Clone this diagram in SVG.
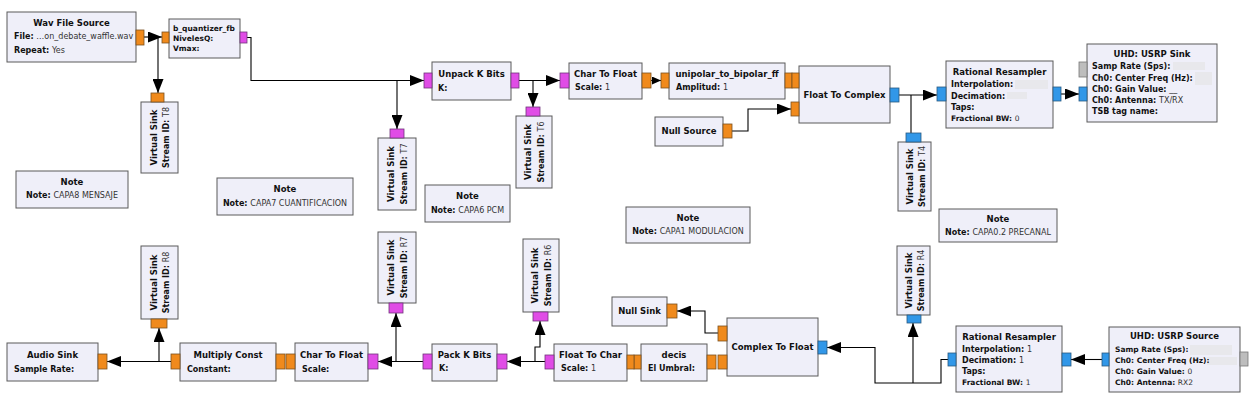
<svg xmlns="http://www.w3.org/2000/svg" width="1253" height="402" viewBox="0 0 1253 402">
<style>
.blk{fill:#EFEFF9;stroke:#5a5a5a;stroke-width:1}
.pf{fill:#F08A1C;stroke:#7a5020;stroke-width:0.8}
.pm{fill:#E04CE6;stroke:#70357a;stroke-width:0.8}
.pc{fill:#3197E8;stroke:#2a5a80;stroke-width:0.8}
.pg{fill:#BDBDBD;stroke:#777;stroke-width:0.8}
.t{font-family:"DejaVu Sans","Liberation Sans",sans-serif;font-size:8.5px;font-weight:bold;fill:#111}
.tc{text-anchor:middle}
.p{font-size:8px}
.s{font-size:7.5px}
.v{font-weight:normal;fill:#333}
.cn{fill:none;stroke:#000;stroke-width:1.1}
.blur{fill:#E8E8EC}
</style>
<defs>
<marker id="ar" markerWidth="14" markerHeight="11" refX="14" refY="5.5" orient="auto" markerUnits="userSpaceOnUse"><path d="M0,0L14,5.5L0,11z" fill="#000"/></marker>
<marker id="as" markerWidth="9" markerHeight="8" refX="9" refY="4" orient="auto" markerUnits="userSpaceOnUse"><path d="M0,0L9,4L0,8z" fill="#000"/></marker>
</defs>
<rect width="1253" height="402" fill="#fff"/>

<g id="connectors">
<path class="cn" d="M144,37H162" marker-end="url(#ar)"/>
<path class="cn" d="M158,37V93" marker-end="url(#ar)"/>
<path class="cn" d="M247,37.5H251V80.5H424" marker-end="url(#ar)"/>
<path class="cn" d="M397,80.5V129" marker-end="url(#ar)"/>
<path class="cn" d="M519,80.5H560" marker-end="url(#ar)"/>
<path class="cn" d="M533,80.5V107" marker-end="url(#ar)"/>
<path class="cn" d="M651,80.5H661" marker-end="url(#as)"/>
<path class="cn" d="M732,131H748V109H791" marker-end="url(#ar)"/>
<path class="cn" d="M899,95H937" marker-end="url(#ar)"/>
<path class="cn" d="M911,95V133"/>
<path class="cn" d="M1061,94H1079" marker-end="url(#ar)"/>
<path class="cn" d="M1102,359.5H1071" marker-end="url(#ar)"/>
<path class="cn" d="M948,359.5H941V383H875V347.5H827" marker-end="url(#ar)"/>
<path class="cn" d="M913,383V323" marker-end="url(#ar)"/>
<path class="cn" d="M718,333H705V311H677" marker-end="url(#ar)"/>
<path class="cn" d="M545,361.5H507" marker-end="url(#ar)"/>
<path class="cn" d="M535,361.5V347H540V321" marker-end="url(#ar)"/>
<path class="cn" d="M423,361.5H378" marker-end="url(#ar)"/>
<path class="cn" d="M396,361.5V313" marker-end="url(#ar)"/>
<path class="cn" d="M171,361.5H107" marker-end="url(#ar)"/>
<path class="cn" d="M159,361.5V328" marker-end="url(#ar)"/>
</g>

<g id="wav_src">
<rect class="blk" x="7" y="12" width="129" height="50"/>
<rect class="pf" x="136" y="30" width="8" height="15"/>
<text class="t tc" x="71.5" y="26">Wav File Source</text>
<text class="t p" x="14" y="39">File: <tspan class="v">…on_debate_waffle.wav</tspan></text>
<text class="t p" x="14" y="53">Repeat: <tspan class="v">Yes</tspan></text>
</g>

<g id="quantizer">
<rect class="blk" x="169" y="19" width="71" height="39"/>
<rect class="pf" x="162" y="32" width="7" height="11"/>
<rect class="pm" x="240" y="32" width="7" height="11"/>
<text class="t s" x="173" y="31">b_quantizer_fb</text>
<text class="t s" x="173" y="41">NivelesQ:</text>
<text class="t s" x="173" y="51">Vmax:</text>
</g>

<g id="vsink_T8">
<rect class="blk" x="141" y="102" width="37" height="71"/>
<rect class="pf" x="151" y="93" width="13" height="9"/>
<g transform="translate(157,137.5) rotate(-90)"><text class="t tc">Virtual Sink</text><text class="t tc p" y="12">Stream ID: <tspan class="v">T8</tspan></text></g>
</g>

<g id="unpack">
<rect class="blk" x="432" y="62" width="79" height="38"/>
<rect class="pm" x="424" y="73" width="8" height="15"/>
<rect class="pm" x="511" y="73" width="8" height="15"/>
<text class="t tc" x="471.5" y="77">Unpack K Bits</text>
<text class="t p" x="438" y="91">K:</text>
</g>

<g id="vsink_T7">
<rect class="blk" x="378" y="138" width="38" height="72"/>
<rect class="pm" x="390" y="129" width="14" height="9"/>
<g transform="translate(394,174) rotate(-90)"><text class="t tc">Virtual Sink</text><text class="t tc p" y="13">Stream ID: <tspan class="v">T7</tspan></text></g>
</g>

<g id="vsink_T6">
<rect class="blk" x="516" y="116" width="36" height="72"/>
<rect class="pm" x="526" y="107" width="14" height="9"/>
<g transform="translate(531,152) rotate(-90)"><text class="t tc">Virtual Sink</text><text class="t tc p" y="13">Stream ID: <tspan class="v">T6</tspan></text></g>
</g>

<g id="char2float_top">
<rect class="blk" x="569" y="63" width="73" height="36"/>
<rect class="pm" x="560" y="73" width="9" height="15"/>
<rect class="pf" x="642" y="73" width="9" height="15"/>
<text class="t tc" x="605.5" y="77">Char To Float</text>
<text class="t p" x="575" y="90">Scale: <tspan class="v">1</tspan></text>
</g>

<g id="unipolar">
<rect class="blk" x="669" y="63" width="116" height="36"/>
<rect class="pf" x="661" y="73" width="8" height="15"/>
<rect class="pf" x="785" y="73" width="7" height="15"/>
<text class="t tc" x="727" y="77">unipolar_to_bipolar_ff</text>
<text class="t p" x="676" y="90">Amplitud: <tspan class="v">1</tspan></text>
</g>

<g id="float2complex">
<rect class="blk" x="799" y="66" width="91" height="57"/>
<rect class="pf" x="792" y="73" width="7" height="15"/>
<rect class="pf" x="791" y="102" width="8" height="14"/>
<rect class="pc" x="890" y="88" width="9" height="14"/>
<text class="t tc" x="844.5" y="98">Float To Complex</text>
</g>

<g id="null_src">
<rect class="blk" x="655" y="117" width="68" height="29"/>
<rect class="pf" x="723" y="124" width="9" height="14"/>
<text class="t tc" x="689" y="134">Null Source</text>
</g>

<g id="vsink_T4">
<rect class="blk" x="898" y="142" width="33" height="69"/>
<rect class="pc" x="906" y="133" width="15" height="9"/>
<g transform="translate(913,176.5) rotate(-90)"><text class="t tc">Virtual Sink</text><text class="t tc p" y="12">Stream ID: <tspan class="v">T4</tspan></text></g>
</g>

<g id="rresamp_top">
<rect class="blk" x="946" y="61" width="107" height="67"/>
<rect class="pc" x="937" y="87" width="9" height="14"/>
<rect class="pc" x="1053" y="87" width="8" height="14"/>
<rect class="blur" x="1015" y="80" width="33" height="9"/>
<rect class="blur" x="1007" y="92" width="20" height="7"/>
<text class="t tc" x="999.5" y="75">Rational Resampler</text>
<text class="t p" x="951" y="87">Interpolation:</text>
<text class="t p" x="951" y="99">Decimation:</text>
<text class="t p" x="951" y="110">Taps:</text>
<text class="t s" x="951" y="121">Fractional BW: <tspan class="v">0</tspan></text>
</g>

<g id="usrp_sink">
<rect class="blk" x="1087" y="44" width="130" height="78"/>
<rect class="pg" x="1079" y="62" width="8" height="15"/>
<rect class="pc" x="1079" y="87" width="8" height="14"/>
<rect class="blur" x="1173" y="62" width="32" height="8"/>
<rect class="blur" x="1195" y="72" width="17" height="13"/>
<text class="t tc" x="1152" y="57">UHD: USRP Sink</text>
<text class="t p" x="1092" y="69">Samp Rate (Sps):</text>
<text class="t p" x="1092" y="81">Ch0: Center Freq (Hz):</text>
<text class="t p" x="1092" y="92">Ch0: Gain Value: <tspan class="v" fill="#aaa">__</tspan></text>
<text class="t p" x="1092" y="103">Ch0: Antenna: <tspan class="v">TX/RX</tspan></text>
<text class="t p" x="1092" y="114">TSB tag name:</text>
</g>

<g id="note8">
<rect class="blk" x="16" y="171" width="112" height="37"/>
<text class="t tc" x="72" y="185">Note</text>
<text class="t tc p" x="72" y="198">Note: <tspan class="v">CAPA8 MENSAJE</tspan></text>
</g>

<g id="note7">
<rect class="blk" x="217" y="178" width="136" height="37"/>
<text class="t tc" x="285" y="192">Note</text>
<text class="t tc p" x="285" y="205.5">Note: <tspan class="v">CAPA7 CUANTIFICACION</tspan></text>
</g>

<g id="note6">
<rect class="blk" x="425" y="185" width="85" height="37"/>
<text class="t tc" x="467.5" y="199">Note</text>
<text class="t tc p" x="467.5" y="212.5">Note: <tspan class="v">CAPA6 PCM</tspan></text>
</g>

<g id="note1">
<rect class="blk" x="626" y="207" width="124" height="36"/>
<text class="t tc" x="688" y="221">Note</text>
<text class="t tc p" x="688" y="234">Note: <tspan class="v">CAPA1 MODULACION</tspan></text>
</g>

<g id="note02">
<rect class="blk" x="939" y="209" width="118" height="33"/>
<text class="t tc" x="998" y="222">Note</text>
<text class="t tc p" x="998" y="235">Note: <tspan class="v">CAPA0.2 PRECANAL</tspan></text>
</g>

<g id="vsink_R4">
<rect class="blk" x="897" y="246" width="33" height="69"/>
<rect class="pc" x="907" y="315" width="14" height="8"/>
<g transform="translate(912,280.5) rotate(-90)"><text class="t tc">Virtual Sink</text><text class="t tc p" y="12">Stream ID: <tspan class="v">R4</tspan></text></g>
</g>

<g id="rresamp_bot">
<rect class="blk" x="956" y="326" width="106" height="66"/>
<rect class="pc" x="948" y="353" width="8" height="13"/>
<rect class="pc" x="1062" y="353" width="9" height="13"/>
<text class="t tc" x="1009" y="340">Rational Resampler</text>
<text class="t p" x="962" y="352">Interpolation: <tspan class="v">1</tspan></text>
<text class="t p" x="962" y="363">Decimation: <tspan class="v">1</tspan></text>
<text class="t p" x="962" y="374">Taps:</text>
<text class="t s" x="962" y="385">Fractional BW: <tspan class="v">1</tspan></text>
</g>

<g id="usrp_src">
<rect class="blk" x="1109" y="327" width="131" height="65"/>
<rect class="pc" x="1102" y="353" width="7" height="13"/>
<rect class="pg" x="1240" y="352" width="8" height="14"/>
<rect class="blur" x="1190" y="345" width="42" height="10"/>
<rect class="blur" x="1207" y="357" width="30" height="8"/>
<text class="t tc" x="1174.5" y="339">UHD: USRP Source</text>
<text class="t s" x="1115" y="352">Samp Rate (Sps):</text>
<text class="t s" x="1115" y="363">Ch0: Center Freq (Hz):</text>
<text class="t s" x="1115" y="374">Ch0: Gain Value: <tspan class="v">0</tspan></text>
<text class="t s" x="1115" y="385">Ch0: Antenna: <tspan class="v">RX2</tspan></text>
</g>

<g id="complex2float">
<rect class="blk" x="727" y="318" width="91" height="58"/>
<rect class="pc" x="818" y="341" width="9" height="13"/>
<rect class="pf" x="718" y="326" width="9" height="15"/>
<rect class="pf" x="718" y="355" width="9" height="14"/>
<text class="t tc" x="772.5" y="350">Complex To Float</text>
</g>

<g id="null_sink">
<rect class="blk" x="612" y="297" width="55" height="29"/>
<rect class="pf" x="667" y="304" width="10" height="14"/>
<text class="t tc" x="639.5" y="314">Null Sink</text>
</g>

<g id="decis">
<rect class="blk" x="641" y="344" width="66" height="37"/>
<rect class="pf" x="707" y="355" width="9" height="14"/>
<rect class="pf" x="634" y="355" width="7" height="14"/>
<text class="t tc" x="674" y="358">decis</text>
<text class="t p" x="648" y="371">El Umbral:</text>
</g>

<g id="float2char">
<rect class="blk" x="554" y="344" width="73" height="37"/>
<rect class="pf" x="627" y="355" width="7" height="14"/>
<rect class="pm" x="545" y="355" width="9" height="14"/>
<text class="t tc" x="590.5" y="358">Float To Char</text>
<text class="t p" x="561" y="371">Scale: <tspan class="v">1</tspan></text>
</g>

<g id="vsink_R6">
<rect class="blk" x="523" y="239" width="36" height="73"/>
<rect class="pm" x="533" y="312" width="15" height="9"/>
<g transform="translate(538,275.5) rotate(-90)"><text class="t tc">Virtual Sink</text><text class="t tc p" y="13">Stream ID: <tspan class="v">R6</tspan></text></g>
</g>

<g id="packk">
<rect class="blk" x="432" y="344" width="65" height="37"/>
<rect class="pm" x="497" y="354" width="10" height="15"/>
<rect class="pm" x="423" y="354" width="9" height="15"/>
<text class="t tc" x="464.5" y="358">Pack K Bits</text>
<text class="t p" x="439" y="371">K:</text>
</g>

<g id="vsink_R7">
<rect class="blk" x="378" y="232" width="38" height="71"/>
<rect class="pm" x="389" y="303" width="14" height="10"/>
<g transform="translate(394,267.5) rotate(-90)"><text class="t tc">Virtual Sink</text><text class="t tc p" y="13">Stream ID: <tspan class="v">R7</tspan></text></g>
</g>

<g id="char2float_bot">
<rect class="blk" x="295" y="343" width="73" height="38"/>
<rect class="pm" x="368" y="354" width="10" height="15"/>
<rect class="pf" x="286" y="354" width="9" height="15"/>
<text class="t tc" x="331.5" y="358">Char To Float</text>
<text class="t p" x="302" y="372">Scale:</text>
</g>

<g id="mult">
<rect class="blk" x="180" y="343" width="96" height="38"/>
<rect class="pf" x="171" y="354" width="9" height="15"/>
<rect class="pf" x="276" y="354" width="9" height="15"/>
<text class="t tc" x="228" y="358">Multiply Const</text>
<text class="t p" x="187" y="372">Constant:</text>
</g>

<g id="vsink_R8">
<rect class="blk" x="141" y="246" width="37" height="73"/>
<rect class="pf" x="151" y="319" width="16" height="9"/>
<g transform="translate(157,282.5) rotate(-90)"><text class="t tc">Virtual Sink</text><text class="t tc p" y="12">Stream ID: <tspan class="v">R8</tspan></text></g>
</g>

<g id="audio_sink">
<rect class="blk" x="7" y="343" width="91" height="38"/>
<rect class="pf" x="98" y="354" width="9" height="15"/>
<text class="t tc" x="52.5" y="358">Audio Sink</text>
<text class="t p" x="14" y="372">Sample Rate:</text>
</g>
</svg>
